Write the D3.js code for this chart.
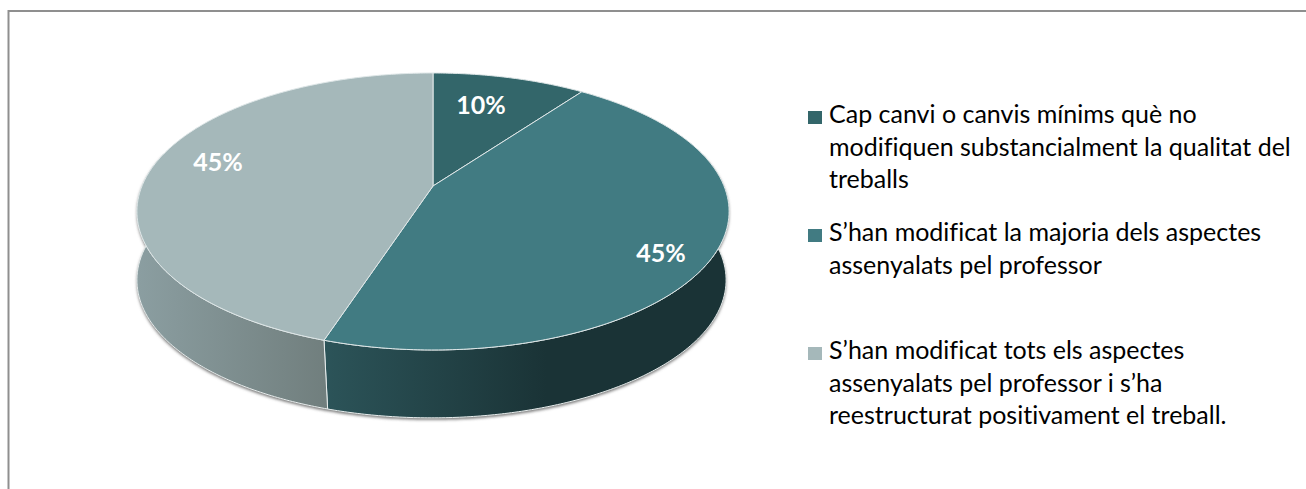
<!DOCTYPE html>
<html>
<head>
    <meta charset="utf-8">
    <style>
        html, body { margin: 0; padding: 0; background: #fff; }
        svg { display: block; }
        text { font-family: Lato, sans-serif; font-variant-ligatures: none; }
    </style>
</head>
<body>
    <svg width="1306" height="489"></svg>
    <script src="https://d3js.org/d3.v7.min.js"></script>
    <script>
        let categories = [
            "Cap canvi o canvis mínims què no modifiquen substancialment la qualitat del treballs",
            "S’han modificat la majoria dels aspectes assenyalats pel professor",
            "S’han modificat tots els aspectes assenyalats pel professor i s’ha reestructurat positivament el treball."
        ];
        let values = [10, 45, 45];
        let valueLabels = ["10%", "45%", "45%"];
        let legendLines = [
            ["Cap canvi o canvis mínims què no", "modifiquen substancialment la qualitat del", "treballs"],
            ["S’han modificat la majoria dels aspectes", "assenyalats pel professor"],
            ["S’han modificat tots els aspectes", "assenyalats pel professor i s’ha", "reestructurat positivament el treball."]
        ];
        let topColors = ["#33666a", "#417b82", "#a5b8ba"];
        let sideStops = [
            [],
            [["0%", "#2c5459"], ["55%", "#1a3336"], ["100%", "#1a3336"]],
            [["0%", "#8b9ea1"], ["100%", "#717f7e"]]
        ];

        let svg = d3.select("svg");
        let defs = svg.append("defs");

        // chart frame, runs off the bottom and right of the picture
        svg.append("path")
            .attr("d", "M8.5 489V11H1306")
            .attr("fill", "none")
            .attr("stroke", "#8f8f8f")
            .attr("stroke-width", 2);

        // tilted pie: unit circle to screen with some perspective
        let cx = 433, cy = 186, sx = 291, sy = 133.8, persp = -0.184, depth = 68;

        function project(angle, r, z) {
            let u = r * Math.sin(angle), v = -r * Math.cos(angle);
            let w = 1 + persp * v;
            let shrink = 1 - 0.005 * z;
            return [cx + sx * shrink * u / w - 1.5 * z, cy + sy * shrink * v / w + depth * z + 0.7 * z];
        }

        let arcs = d3.pie().sort(null).startAngle(0).endAngle(2 * Math.PI)(values);
        let line = d3.line();

        function rimAngles(a0, a1) {
            let n = Math.max(2, Math.ceil((a1 - a0) / 0.01));
            return d3.range(n + 1).map(function(i) { return a0 + (a1 - a0) * i / n; });
        }

        let frontStart = Math.PI * 0.42, frontEnd = Math.PI * 1.58;
        // the seams lean a little to the right going down
        let seamLean = 0.014;

        function sidePath(a0, a1) {
            let angles = rimAngles(Math.max(a0, frontStart), Math.min(a1, frontEnd));
            let pts = angles.map(function(a) { return project(a, 1, 0); })
                .concat(angles.slice().reverse().map(function(a) { return project(a - seamLean, 1, 1); }));
            return line(pts) + "Z";
        }

        // soft shadow under the rim
        defs.append("filter").attr("id", "soft")
            .attr("x", "-5%").attr("y", "-5%").attr("width", "110%").attr("height", "110%")
            .append("feGaussianBlur").attr("stdDeviation", 1.6);
        svg.append("path")
            .attr("d", sidePath(frontStart, frontEnd))
            .attr("transform", "translate(0, 2)")
            .attr("fill", "#777")
            .attr("filter", "url(#soft)");

        // side walls
        arcs.forEach(function(d, i) {
            if (d.endAngle <= frontStart) return;
            let grad = defs.append("linearGradient")
                .attr("id", "side" + i)
                .attr("gradientUnits", "userSpaceOnUse")
                .attr("x1", i === 1 ? 324 : 137).attr("x2", i === 1 ? 729 : 324)
                .attr("y1", 0).attr("y2", 0);
            sideStops[i].forEach(function(s) {
                grad.append("stop").attr("offset", s[0]).attr("stop-color", s[1]);
            });
            svg.append("path")
                .attr("d", sidePath(d.startAngle, d.endAngle))
                .attr("fill", "url(#side" + i + ")")
                .attr("stroke", "#e8eeee")
                .attr("stroke-width", 1);
        });

        // top face
        svg.selectAll("path.slice")
            .data(arcs)
            .enter()
            .append("path")
            .attr("class", "slice")
            .attr("fill", function(d, i) { return topColors[i]; })
            .attr("stroke", "#dfe7e8")
            .attr("stroke-width", 1)
            .attr("stroke-linejoin", "round")
            .attr("d", function(d) {
                let pts = rimAngles(d.startAngle, d.endAngle).map(function(a) { return project(a, 1, 0); });
                return line([[cx, cy]].concat(pts)) + "Z";
            });

        // value labels, placed by hand like in the original
        let labelSpots = [[481, 114], [661, 262], [218, 171]];
        svg.selectAll("text.value")
            .data(valueLabels)
            .enter()
            .append("text")
            .attr("class", "value")
            .attr("x", function(d, i) { return labelSpots[i][0]; })
            .attr("y", function(d, i) { return labelSpots[i][1]; })
            .attr("text-anchor", "middle")
            .attr("fill", "#fff")
            .attr("font-weight", 700)
            .attr("font-size", 25)
            .text(function(d) { return d; });

        // legend
        let legendX = 808, legendTextX = 829, lineGap = 32.5;
        let legendTops = [111, 229, 347];
        let legend = svg.selectAll("g.legend")
            .data(categories)
            .enter()
            .append("g")
            .attr("class", "legend")
            .attr("aria-label", function(d) { return d; })
            .attr("transform", function(d, i) { return "translate(" + legendX + "," + legendTops[i] + ")"; });
        legend.append("rect")
            .attr("width", 14)
            .attr("height", 13)
            .attr("fill", function(d, i) { return topColors[i]; });
        legend.each(function(d, i) {
            d3.select(this).selectAll("text")
                .data(legendLines[i])
                .enter()
                .append("text")
                .attr("x", legendTextX - legendX)
                .attr("y", function(t, j) { return 12 + j * lineGap; })
                .attr("fill", "#000")
                .attr("font-size", 25)
                .text(function(t) { return t; });
        });
    </script>
</body>
</html>
